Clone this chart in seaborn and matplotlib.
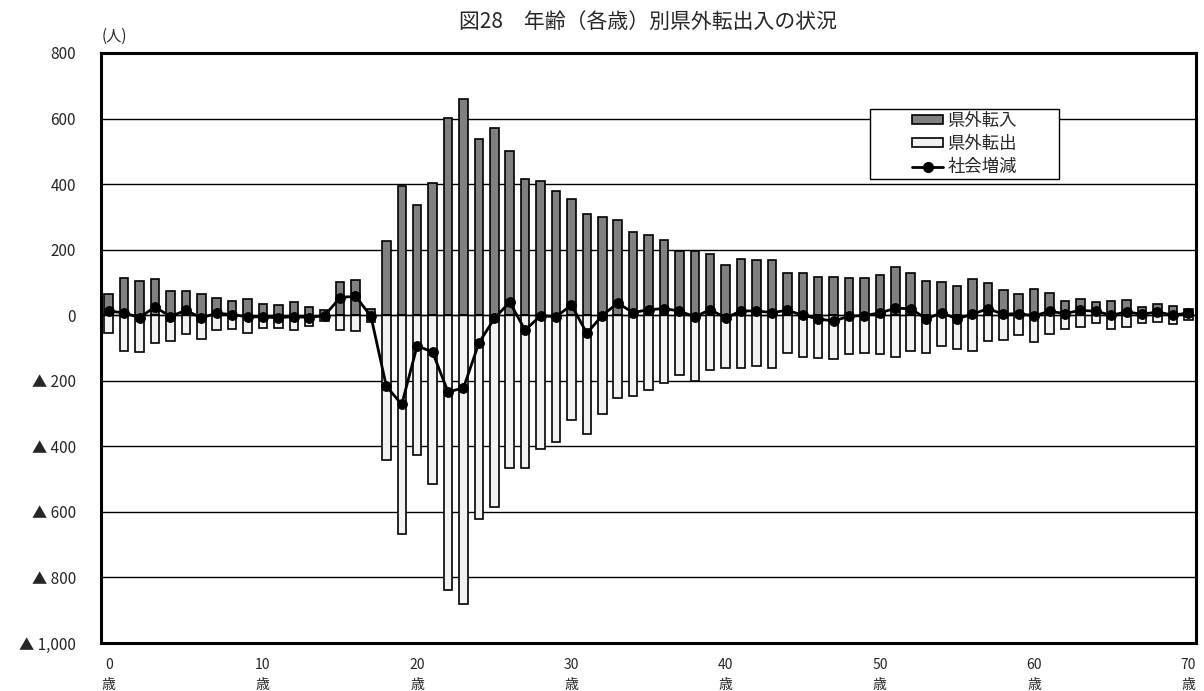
import pandas as pd
import matplotlib.pyplot as plt
import seaborn as sns
from matplotlib.patches import Patch, Rectangle
from matplotlib.lines import Line2D

# ages 0..70
ages = list(range(71))

# 県外転入 (in-migration)
in_values = [66, 115, 104, 109, 74, 73, 64, 52, 43, 49,
             34, 30, 40, 25, 16, 100, 106, 19, 226, 394,
             335, 402, 602, 659, 537, 571, 502, 417, 409, 380,
             354, 309, 299, 290, 254, 246, 228, 195, 197, 186,
             152, 173, 167, 168, 130, 128, 117, 116, 114, 115,
             123, 146, 129, 104, 101, 89, 112, 99, 76, 66,
             79, 69, 44, 50, 41, 42, 46, 24, 34, 27,
             20]

# 県外転出 (out-migration, negative)
out_values = [-54, -109, -112, -84, -78, -58, -72, -46, -41, -54,
              -39, -38, -44, -32, -17, -46, -49, -22, -442, -666,
              -427, -514, -837, -882, -622, -584, -465, -465, -409, -386,
              -321, -363, -301, -254, -246, -227, -208, -181, -202, -168,
              -161, -160, -154, -162, -115, -129, -130, -134, -118, -116,
              -119, -126, -109, -116, -95, -102, -110, -79, -76, -61,
              -82, -58, -42, -36, -25, -43, -36, -23, -22, -26,
              -15]

# 社会増減 (net)
net_values = [13, 7, -7, 25, -4, 15, -8, 6, 2, -5,
              -5, -8, -4, -7, -1, 54, 58, -3, -217, -272,
              -93, -113, -234, -222, -85, -10, 40, -46, -1, -5,
              31, -55, -1, 37, 8, 17, 20, 13, -5, 17,
              -8, 13, 13, 8, 15, 0, -11, -18, -3, -1,
              7, 21, 20, -11, 7, -11, 3, 20, 3, 5,
              -2, 12, 5, 15, 12, 0, 10, 3, 10, 0,
              7]

y_ticks = list(range(-1000, 801, 200))
y_labels = [f"{v:,}" if v >= 0 else f"▲ {-v:,}" for v in y_ticks]
x_ticks = list(range(0, 71, 10))
x_labels = [f"{a}\n歳" for a in x_ticks]

sns.set_style("white")
plt.rcParams['font.family'] = ['Noto Sans CJK JP', 'DejaVu Sans']

df = pd.DataFrame({'age': ages, 'in': in_values, 'out': out_values, 'net': net_values})

fig, ax = plt.subplots(figsize=(12.04, 6.91), dpi=100)
fig.subplots_adjust(left=0.0839, right=0.9934, top=0.9233, bottom=0.0695)

sns.barplot(data=df, x='age', y='in', color='#808080', edgecolor='black',
            linewidth=1.2, width=0.55, saturation=1, ax=ax, zorder=2)
sns.barplot(data=df, x='age', y='out', color='#f2f2f2', edgecolor='black',
            linewidth=1.2, width=0.55, saturation=1, ax=ax, zorder=2)
sns.lineplot(data=df, x='age', y='net', color='black', linewidth=2,
             marker='o', markersize=7, markeredgecolor='black', ax=ax, zorder=4)

ax.set_xlim(-0.5, 70.5)
ax.set_ylim(-1000, 800)
ax.set_yticks(y_ticks)
ax.set_yticklabels(y_labels, fontsize=11)
ax.set_xticks(x_ticks)
ax.set_xticklabels(x_labels, fontsize=10, linespacing=1.55)
ax.tick_params(axis='y', length=0, pad=18)
ax.tick_params(axis='x', length=0, pad=11)
ax.set_xlabel('')
ax.set_ylabel('')

ax.yaxis.grid(True, color='black', linewidth=1)
ax.set_axisbelow(True)
ax.axhline(0, color='black', linewidth=1, zorder=3)
for s in ax.spines.values():
    s.set_linewidth(2.2)
    s.set_color('black')

fig.text(0.538, 0.968, '図28　年齢（各歳）別県外転出入の状況', ha='center', va='center', fontsize=15)
fig.text(0.095, 0.947, '(人)', ha='center', va='center', fontsize=11)

# legend
rx0, rx1, ry0, ry1 = 0.7023, 0.8749, 0.7864, 0.9051
ax.add_patch(Rectangle((rx0, ry0), rx1 - rx0, ry1 - ry0, transform=ax.transAxes,
                       facecolor='white', edgecolor='black', linewidth=1, zorder=5))
handles = [Patch(facecolor='#808080', edgecolor='black', linewidth=1.2),
           Patch(facecolor='#f2f2f2', edgecolor='black', linewidth=1.2),
           Line2D([], [], color='black', linewidth=2, marker='o', markersize=7)]
leg = ax.legend(handles, ['県外転入', '県外転出', '社会増減'], loc='center',
                bbox_to_anchor=((rx0 + rx1) / 2, (ry0 + ry1) / 2), frameon=False,
                fontsize=12.5, handlelength=1.8, handleheight=0.45, handletextpad=0.25,
                labelspacing=0.3)
leg.set_zorder(6)

plt.savefig('out.png', dpi=100)
